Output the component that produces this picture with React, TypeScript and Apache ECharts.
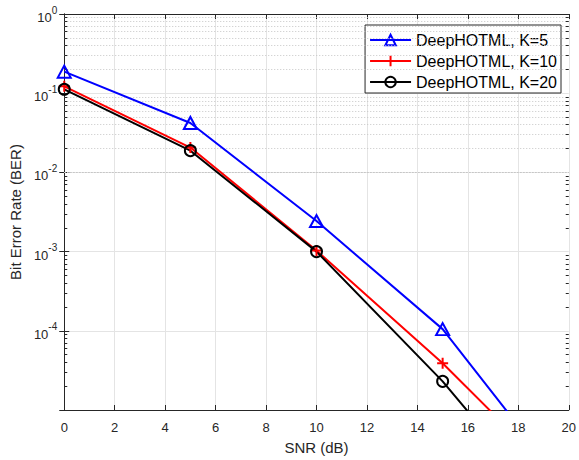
import React, { useEffect, useRef } from "react";
import * as echarts from "echarts";

const snr = [0, 5, 10, 15, 20];
const berK5 = [0.187, 0.0421, 0.00243, 1.05e-4, 9.7e-7];
const berK10 = [0.122, 0.0206, 1.03e-3, 3.9e-5, 1.0e-6];
const berK20 = [0.112, 0.0188, 1.0e-3, 2.3e-5, 2.9e-7];
const seriesNames = ["DeepHOTML, K=5", "DeepHOTML, K=10", "DeepHOTML, K=20"];
const decades = [-5, -4, -3, -2, -1];
const minorMantissas = [2, 3, 4, 5, 6, 7, 8, 9];

const AXIS = "#262626";

export default function App() {
  const ref = useRef<HTMLDivElement>(null);
  useEffect(() => {
    if (!ref.current) return;
    const chart = echarts.init(ref.current, null, { renderer: "svg" });
    const minorVals: number[] = [];
    decades.forEach((d) => minorMantissas.forEach((m) => minorVals.push(m * Math.pow(10, d))));
    const mk = (arr: number[]) => arr.map((v, i) => [snr[i], v]);
    const minorGrid = minorVals.map((v) => ({ yAxis: v }));
    const minorTicks: any[] = [];
    minorVals.forEach((v) => {
      minorTicks.push([{ coord: [0, v] }, { coord: [0.12, v] }]);
      minorTicks.push([{ coord: [19.88, v] }, { coord: [20, v] }]);
    });
    const axisLabelFmt = (v: number) => {
      const e = Math.round(Math.log10(v));
      if (e === -5) return "";
      return `{b|10}{s|${e}}`;
    };
    chart.setOption({
      animation: false,
      backgroundColor: "#ffffff",
      grid: { left: 61, right: 7, top: 14, bottom: 42.5, containLabel: false },
      legend: {
        data: seriesNames,
        orient: "vertical",
        right: 18,
        top: 25,
        itemWidth: 41,
        itemHeight: 13,
        itemGap: 5,
        padding: [7, 4, 3, 4],
        backgroundColor: "#ffffff",
        borderColor: AXIS,
        borderWidth: 1,
        textStyle: { fontFamily: "Liberation Sans", fontSize: 16, color: "#000" },
      },
      xAxis: [
        {
          type: "value",
          min: 0,
          max: 20,
          interval: 2,
          name: "SNR (dB)",
          nameLocation: "middle",
          nameGap: 30,
          nameTextStyle: { fontFamily: "Liberation Sans", fontSize: 15, color: AXIS },
          axisLine: { lineStyle: { color: AXIS, width: 1 } },
          axisTick: { inside: true, length: 5, lineStyle: { color: AXIS } },
          axisLabel: { fontFamily: "Liberation Sans", fontSize: 13, color: AXIS, margin: 11 },
          splitLine: { show: true, lineStyle: { color: "#e4e4e4", width: 1 } },
        },
        {
          type: "value",
          position: "top",
          min: 0,
          max: 20,
          interval: 2,
          axisLine: { show: true, lineStyle: { color: AXIS, width: 1 } },
          axisTick: { inside: true, length: 5, lineStyle: { color: AXIS } },
          axisLabel: { show: false },
          splitLine: { show: false },
        },
      ],
      yAxis: [
        {
          type: "log",
          logBase: 10,
          min: 1e-5,
          max: 1,
          name: "Bit Error Rate (BER)",
          nameLocation: "middle",
          nameGap: 37,
          nameTextStyle: { fontFamily: "Liberation Sans", fontSize: 15, color: AXIS },
          axisLine: { show: true, lineStyle: { color: AXIS, width: 1 } },
          axisTick: { inside: true, length: 5, lineStyle: { color: AXIS } },
          axisLabel: {
            margin: 7,
            formatter: axisLabelFmt,
            rich: {
              b: { fontFamily: "Liberation Sans", fontSize: 13, color: AXIS, lineHeight: 20, verticalAlign: "bottom" },
              s: { fontFamily: "Liberation Sans", fontSize: 10, color: AXIS, lineHeight: 20, verticalAlign: "top", padding: [1, 0, 0, 0] },
            },
          },
          splitLine: { show: true, lineStyle: { color: "#e4e4e4", width: 1 } },
        },
        {
          type: "log",
          logBase: 10,
          min: 1e-5,
          max: 1,
          position: "right",
          axisLine: { show: true, lineStyle: { color: AXIS, width: 1 } },
          axisTick: { inside: true, length: 5, lineStyle: { color: AXIS } },
          axisLabel: { show: false },
          splitLine: { show: false },
        },
      ],
      series: [
        {
          name: "minor",
          type: "line",
          data: mk(berK20),
          showSymbol: false,
          lineStyle: { opacity: 0 },
          z: 1,
          silent: true,
          markLine: {
            silent: true,
            symbol: ["none", "none"],
            label: { show: false },
            lineStyle: { color: "#c6c6c6", width: 1, type: [1, 2] },
            data: minorGrid,
          },
        },
        {
          name: "minorTicks",
          type: "line",
          data: mk(berK20),
          showSymbol: false,
          lineStyle: { opacity: 0 },
          z: 3,
          silent: true,
          markLine: {
            silent: true,
            symbol: ["none", "none"],
            label: { show: false },
            lineStyle: { color: AXIS, width: 1, type: "solid" },
            data: minorTicks,
          },
        },
        {
          name: seriesNames[0],
          type: "line",
          data: mk(berK5),
          symbol: "triangle",
          symbolSize: [13, 12],
          lineStyle: { color: "#0000ff", width: 2 },
          itemStyle: { color: "none", borderColor: "#0000ff", borderWidth: 2 },
          z: 5,
        },
        {
          name: seriesNames[1],
          type: "line",
          data: mk(berK10),
          symbol: "path://M5,0L5,10M0,5L10,5",
          symbolSize: 11,
          lineStyle: { color: "#ff0000", width: 2 },
          itemStyle: { color: "none", borderColor: "#ff0000", borderWidth: 2 },
          z: 5,
        },
        {
          name: seriesNames[2],
          type: "line",
          data: mk(berK20),
          symbol: "circle",
          symbolSize: 11,
          lineStyle: { color: "#000000", width: 2 },
          itemStyle: { color: "none", borderColor: "#000000", borderWidth: 2 },
          z: 5,
        },
      ],
    });
    return () => chart.dispose();
  }, []);
  return (
    <div
      ref={ref}
      style={{ position: "fixed", left: 0, top: 0, width: 579, height: 460 }}
    />
  );
}
